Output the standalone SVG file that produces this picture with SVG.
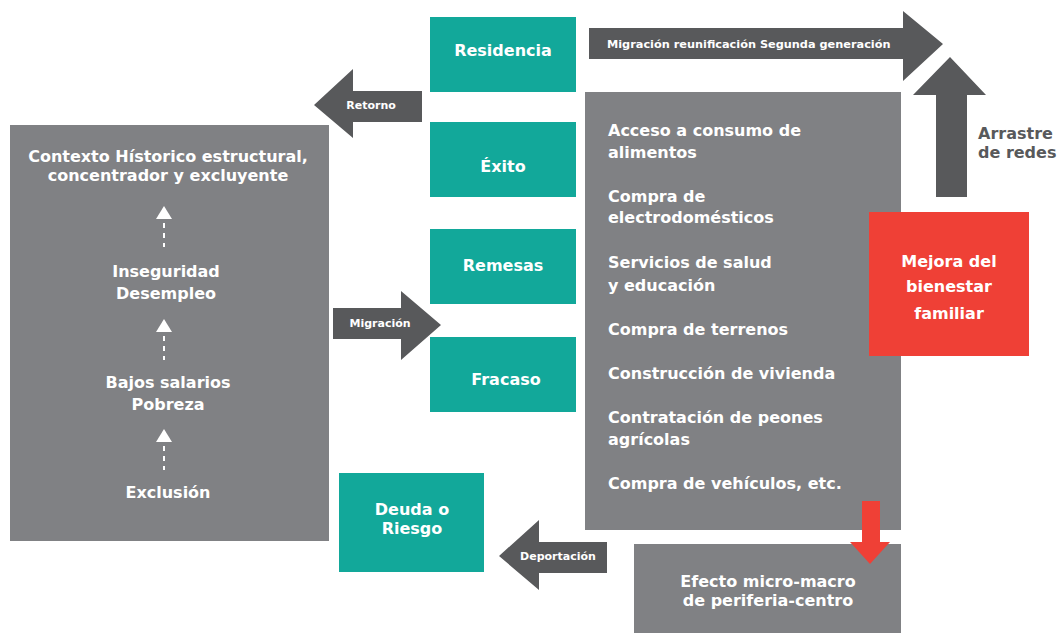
<svg xmlns="http://www.w3.org/2000/svg" width="1059" height="634" viewBox="0 0 1059 634">
<style>
.grey{fill:#808184}
.teal{fill:#12a89a}
.red{fill:#ef4036}
.dark{fill:#58595b}
text{font-family:"DejaVu Sans","Liberation Sans",sans-serif;font-weight:700;fill:#fff}
.t17{font-size:16px}
.t11{font-size:11px}
.c{text-anchor:middle}
.dash{stroke:#fff;stroke-width:2;stroke-dasharray:5 5;fill:none}
</style>
<rect width="1059" height="634" fill="#fff"/>
<g id="contexto">
<rect class="grey" x="10" y="125" width="319" height="416"/>
<text class="t17 c" x="168" y="162">Contexto Hístorico estructural,</text>
<text class="t17 c" x="168" y="181">concentrador y excluyente</text>
<text class="t17 c" x="166" y="277">Inseguridad</text>
<text class="t17 c" x="166" y="299">Desempleo</text>
<text class="t17 c" x="168" y="388">Bajos salarios</text>
<text class="t17 c" x="168" y="410">Pobreza</text>
<text class="t17 c" x="168" y="498">Exclusión</text>
</g>
<g id="residencia"><rect class="teal" x="430" y="17" width="146" height="75"/><text class="t17 c" x="503" y="56">Residencia</text></g>
<g id="exito"><rect class="teal" x="430" y="122" width="146" height="75"/><text class="t17 c" x="503" y="172">Éxito</text></g>
<g id="remesas"><rect class="teal" x="430" y="229" width="146" height="75"/><text class="t17 c" x="503" y="271">Remesas</text></g>
<g id="fracaso"><rect class="teal" x="430" y="337" width="146" height="75"/><text class="t17 c" x="506" y="385">Fracaso</text></g>
<g id="deuda"><rect class="teal" x="339" y="473" width="145" height="99"/><text class="t17 c" x="412" y="515">Deuda o</text><text class="t17 c" x="412" y="534">Riesgo</text></g>
<g id="beneficios">
<rect class="grey" x="585" y="92" width="316" height="438"/>
<text class="t17" x="608" y="136">Acceso a consumo de</text>
<text class="t17" x="608" y="158">alimentos</text>
<text class="t17" x="608" y="202">Compra de</text>
<text class="t17" x="608" y="223">electrodomésticos</text>
<text class="t17" x="608" y="268">Servicios de salud</text>
<text class="t17" x="608" y="291">y educación</text>
<text class="t17" x="608" y="335">Compra de terrenos</text>
<text class="t17" x="608" y="379">Construcción de vivienda</text>
<text class="t17" x="608" y="423">Contratación de peones</text>
<text class="t17" x="608" y="445">agrícolas</text>
<text class="t17" x="608" y="489">Compra de vehículos, etc.</text>
</g>
<g id="mejora"><rect class="red" x="869" y="212" width="160" height="144"/>
<text class="t17 c" x="949" y="267">Mejora del</text>
<text class="t17 c" x="949" y="292">bienestar</text>
<text class="t17 c" x="949" y="319">familiar</text></g>
<g id="efecto"><rect class="grey" x="634" y="544" width="267" height="89"/>
<text class="t17 c" x="768" y="587">Efecto micro-macro</text>
<text class="t17 c" x="768" y="606">de periferia-centro</text></g>
<g id="arrastre"><text class="t17" x="978" y="139" style="fill:#58595b">Arrastre</text><text class="t17" x="978" y="158" style="fill:#58595b">de redes</text></g>
<g id="connectors">
<path class="dash" d="M164 223V247"/>
<polygon fill="#fff" points="164,206 172,219 156,219"/>
<path class="dash" d="M164 336V360"/>
<polygon fill="#fff" points="164,319 172,332 156,332"/>
<path class="dash" d="M164 446V470"/>
<polygon fill="#fff" points="164,429 172,442 156,442"/>
<polygon class="dark" points="314,105 353,69 353,91 422,91 422,122 353,122 353,138"/>
<text class="t11 c" x="371" y="109">Retorno</text>
<polygon class="dark" points="589,28 903,28 903,11 943,44 903,81 903,59 589,59"/>
<text class="t11" x="607" y="48" style="font-size:11.3px">Migración reunificación Segunda generación</text>
<polygon class="dark" points="950,57 986,95 967,95 967,197 936,197 936,95 913,95"/>
<polygon class="dark" points="333,308 401,308 401,291 441,325 401,360 401,339 333,339"/>
<text class="t11 c" x="380" y="327">Migración</text>
<polygon class="dark" points="499,556 539,520 539,542 607,542 607,573 539,573 539,590"/>
<text class="t11 c" x="558" y="560">Deportación</text>
<polygon class="red" points="862,501 880,501 880,542 890,542 870,564 850,542 862,542"/>
</g>
</svg>
